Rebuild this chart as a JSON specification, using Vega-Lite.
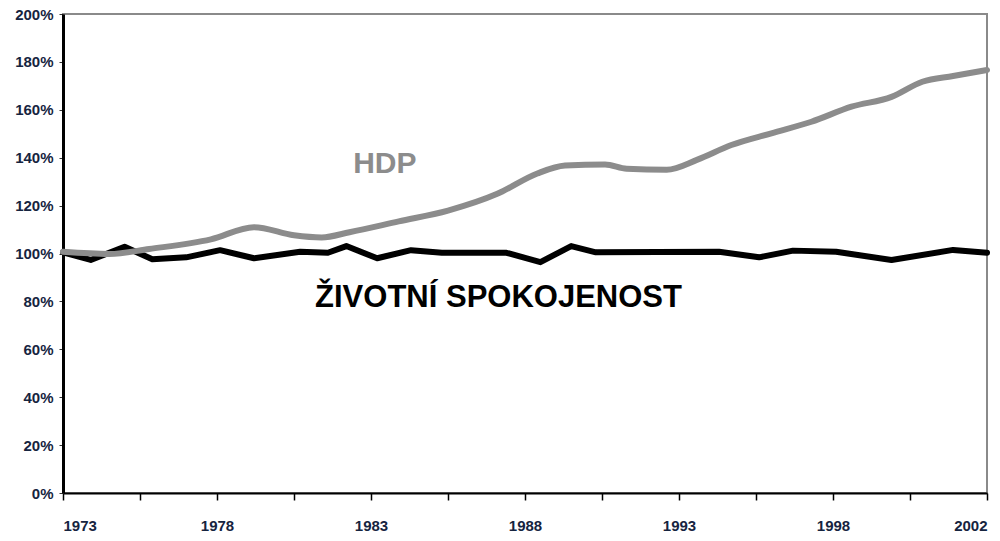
{
  "$schema": "https://vega.github.io/schema/vega-lite/v6.json",
  "width": 924,
  "height": 479,
  "autosize": {"type": "none"},
  "padding": {"left": 63, "top": 14, "right": 13, "bottom": 48},
  "background": "white",
  "config": {
    "view": {"stroke": "#8a8a8a", "strokeWidth": 2},
    "font": "Liberation Sans"
  },
  "datasets": {
    "spokojenost": [
      {"year": 1973.0, "pct": 100.5},
      {"year": 1973.9, "pct": 97.3},
      {"year": 1975.0, "pct": 102.8},
      {"year": 1975.9, "pct": 97.6},
      {"year": 1977.0, "pct": 98.4},
      {"year": 1978.1, "pct": 101.4},
      {"year": 1979.2, "pct": 98.0},
      {"year": 1980.7, "pct": 100.7},
      {"year": 1981.6, "pct": 100.3},
      {"year": 1982.2, "pct": 103.1},
      {"year": 1983.2, "pct": 98.0},
      {"year": 1984.3, "pct": 101.4},
      {"year": 1985.3, "pct": 100.3},
      {"year": 1987.4, "pct": 100.3},
      {"year": 1988.5, "pct": 96.4},
      {"year": 1989.5, "pct": 103.1},
      {"year": 1990.3, "pct": 100.5},
      {"year": 1994.3, "pct": 100.7},
      {"year": 1995.6, "pct": 98.4},
      {"year": 1996.7, "pct": 101.2},
      {"year": 1998.1, "pct": 100.7},
      {"year": 1999.9, "pct": 97.3},
      {"year": 2001.9, "pct": 101.5},
      {"year": 2003.0, "pct": 100.3}
    ],
    "hdp": [
      {"year": 1973.0, "pct": 100.7},
      {"year": 1974.5, "pct": 99.8},
      {"year": 1975.8, "pct": 101.9},
      {"year": 1977.8, "pct": 105.9},
      {"year": 1979.2, "pct": 111.0},
      {"year": 1980.5, "pct": 107.6},
      {"year": 1981.4, "pct": 106.7},
      {"year": 1982.3, "pct": 108.9},
      {"year": 1983.9, "pct": 113.4},
      {"year": 1985.5, "pct": 117.9},
      {"year": 1987.1, "pct": 124.9},
      {"year": 1988.4, "pct": 133.4},
      {"year": 1989.3, "pct": 136.7},
      {"year": 1990.6, "pct": 137.2},
      {"year": 1991.3, "pct": 135.4},
      {"year": 1992.6, "pct": 135.0},
      {"year": 1993.6, "pct": 139.2},
      {"year": 1994.7, "pct": 145.3},
      {"year": 1996.0, "pct": 150.2},
      {"year": 1997.3, "pct": 155.0},
      {"year": 1998.6, "pct": 161.3},
      {"year": 1999.9, "pct": 165.4},
      {"year": 2000.9, "pct": 171.7},
      {"year": 2001.9, "pct": 174.1},
      {"year": 2003.0, "pct": 176.6}
    ],
    "hdpLabel": [{"label": "HDP", "year": 1983.45, "pct": 133.6}],
    "spokLabel": [{"label": "ŽIVOTNÍ SPOKOJENOST", "year": 1987.14, "pct": 77.8}]
  },
  "encoding": {
    "x": {
      "field": "year",
      "type": "quantitative",
      "scale": {"domain": [1973, 2003], "nice": false, "zero": false},
      "axis": {
        "title": null,
        "grid": false,
        "values": [1973, 1975.5, 1978, 1980.5, 1983, 1985.5, 1988, 1990.5, 1993, 1995.5, 1998, 2000.5, 2003],
        "labelExpr": "datum.value == 2003 ? '2002' : ((datum.value - 1973) % 5 == 0 ? '' + datum.value : '')",
        "domainColor": "#000000",
        "domainWidth": 2,
        "tickColor": "#000000",
        "tickWidth": 1.5,
        "tickSize": 7,
        "labelPadding": 18,
        "labelFont": "Liberation Sans",
        "labelFontWeight": "bold",
        "labelFontSize": 15,
        "labelColor": "#16243f",
        "labelOverlap": false
      }
    },
    "y": {
      "field": "pct",
      "type": "quantitative",
      "scale": {"domain": [0, 200], "nice": false},
      "axis": {
        "title": null,
        "grid": false,
        "values": [0, 20, 40, 60, 80, 100, 120, 140, 160, 180, 200],
        "labelExpr": "datum.value + '%'",
        "domainColor": "#000000",
        "domainWidth": 3,
        "tickColor": "#333333",
        "tickWidth": 1,
        "tickSize": 4,
        "labelPadding": 6,
        "labelFont": "Liberation Sans",
        "labelFontWeight": "bold",
        "labelFontSize": 15,
        "labelColor": "#16243f"
      }
    }
  },
  "layer": [
    {
      "data": {"name": "spokojenost"},
      "mark": {"type": "line", "color": "#000000", "strokeWidth": 6, "strokeJoin": "round", "strokeCap": "round"}
    },
    {
      "data": {"name": "hdp"},
      "mark": {"type": "line", "color": "#8c8c8c", "strokeWidth": 6, "strokeJoin": "round", "strokeCap": "round", "interpolate": "monotone"}
    },
    {
      "data": {"name": "hdpLabel"},
      "mark": {"type": "text", "color": "#8c8c8c", "fontSize": 30, "fontWeight": "bold", "font": "Liberation Sans", "align": "center", "baseline": "alphabetic"},
      "encoding": {"text": {"field": "label"}}
    },
    {
      "data": {"name": "spokLabel"},
      "mark": {"type": "text", "color": "#000000", "fontSize": 31, "fontWeight": "bold", "font": "Liberation Sans", "align": "center", "baseline": "alphabetic"},
      "encoding": {"text": {"field": "label"}}
    }
  ]
}
